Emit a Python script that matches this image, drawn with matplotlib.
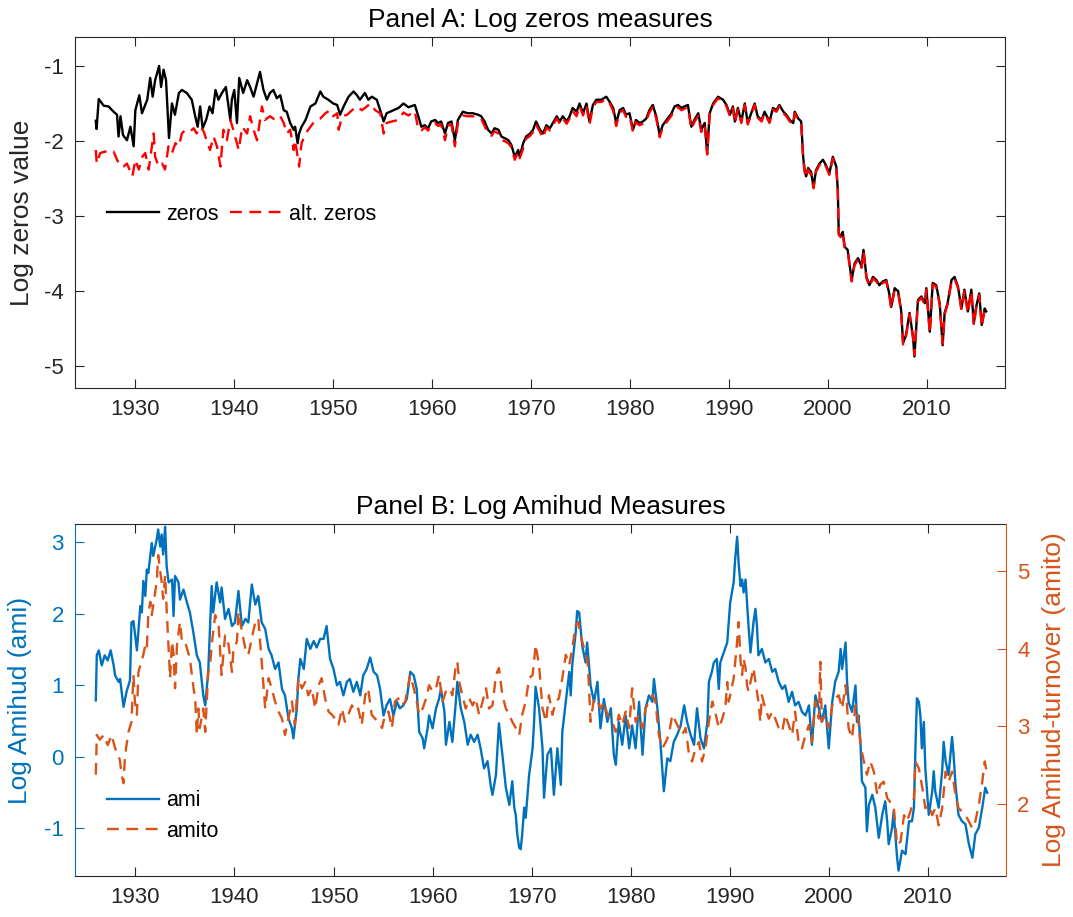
import matplotlib
matplotlib.use('Agg')
import matplotlib.pyplot as plt

plt.rcParams['font.family'] = ['Liberation Sans', 'DejaVu Sans']

# Panel A: log zeros measures (year, value)
zeros_early = [
    (1926.0, -1.73), (1926.08, -1.84), (1926.3, -1.44), (1926.8, -1.53), (1927.3, -1.54),
    (1927.8, -1.61), (1928.15, -1.65), (1928.3, -1.94), (1928.5, -1.67), (1928.75, -1.92),
    (1929.15, -1.99), (1929.5, -1.81), (1929.83, -2.07), (1930.0, -1.59), (1930.4, -1.39),
    (1930.67, -1.63), (1931.2, -1.45), (1931.5, -1.16), (1931.75, -1.41), (1932.0, -1.19),
    (1932.4, -1.00), (1932.6, -1.28), (1932.85, -1.05), (1933.1, -1.19), (1933.4, -1.96),
    (1933.7, -1.50), (1934.0, -1.65), (1934.4, -1.36), (1934.7, -1.32), (1935.2, -1.36),
    (1935.7, -1.45), (1936.05, -1.67), (1936.3, -1.81), (1936.55, -1.54), (1936.8, -1.83),
    (1937.15, -1.72), (1937.5, -1.54), (1937.8, -1.63), (1938.1, -1.32), (1938.4, -1.45),
    (1938.75, -1.36), (1939.15, -1.28), (1939.6, -1.72), (1939.75, -1.45), (1940.0, -1.32),
    (1940.27, -1.76), (1940.5, -1.16), (1940.9, -1.36), (1941.3, -1.19), (1941.6, -1.28),
    (1941.95, -1.41), (1942.3, -1.23), (1942.6, -1.08), (1942.95, -1.32), (1943.3, -1.45),
    (1943.6, -1.36), (1943.95, -1.32), (1944.3, -1.43), (1944.65, -1.39), (1945.0, -1.59),
    (1945.3, -1.61), (1945.65, -1.76), (1946.0, -1.85), (1946.15, -1.81), (1946.4, -2.03),
    (1946.55, -1.90), (1946.8, -1.81), (1947.2, -1.72), (1947.7, -1.54), (1948.2, -1.50),
    (1948.7, -1.34), (1949.0, -1.41), (1949.5, -1.45), (1950.0, -1.50), (1950.4, -1.52),
    (1950.7, -1.65), (1951.05, -1.54), (1951.55, -1.41), (1952.05, -1.34), (1952.4, -1.39),
    (1952.7, -1.45), (1953.2, -1.36), (1953.55, -1.45), (1953.9, -1.41), (1954.4, -1.45),
    (1954.75, -1.59), (1955.1, -1.74), (1955.4, -1.63), (1956.1, -1.59), (1956.6, -1.56),
]

alt_early = [
    (1926.0, -2.12), (1926.1, -2.30), (1926.45, -2.16), (1926.95, -2.14), (1927.5, -2.16),
    (1927.8, -2.14), (1928.15, -2.25), (1928.5, -2.34), (1928.8, -2.34), (1929.15, -2.30),
    (1929.7, -2.47), (1930.0, -2.25), (1930.35, -2.38), (1930.7, -2.21), (1931.0, -2.16),
    (1931.35, -2.38), (1931.85, -1.90), (1932.0, -2.21), (1932.35, -2.34), (1932.7, -2.30),
    (1933.0, -2.38), (1933.35, -2.07), (1933.7, -2.16), (1934.05, -2.03), (1934.4, -2.07),
    (1934.7, -1.90), (1935.05, -1.85), (1935.55, -1.87), (1935.9, -1.83), (1936.2, -1.90),
    (1936.55, -1.81), (1936.9, -1.87), (1937.2, -1.99), (1937.55, -2.12), (1937.9, -1.94),
    (1938.25, -2.07), (1938.6, -2.34), (1938.9, -1.85), (1939.25, -1.99), (1939.6, -1.72),
    (1939.9, -1.85), (1940.45, -2.12), (1940.8, -1.81), (1941.3, -1.90), (1941.6, -1.67),
    (1941.95, -1.85), (1942.3, -1.99), (1942.8, -1.54), (1943.1, -1.72), (1943.6, -1.67),
    (1944.15, -1.72), (1944.65, -1.67), (1945.0, -1.76), (1945.3, -1.90), (1945.65, -1.85),
    (1946.0, -2.12), (1946.15, -1.99), (1946.55, -2.34), (1946.8, -2.03), (1947.2, -1.90),
    (1947.7, -1.81), (1948.2, -1.72), (1948.7, -1.70), (1949.2, -1.63), (1949.7, -1.59),
    (1950.0, -1.67), (1950.4, -1.63), (1950.55, -1.85), (1950.9, -1.67), (1951.4, -1.65),
    (1951.9, -1.59), (1952.4, -1.54), (1952.9, -1.59), (1953.4, -1.54), (1953.75, -1.50),
    (1954.25, -1.59), (1954.75, -1.63), (1955.1, -1.90), (1955.4, -1.76), (1955.9, -1.74),
    (1956.6, -1.72),
]

# after 1957 both series move together: (year, zeros, alt. zeros)
zeros_late = [
    (1957.1, -1.50, -1.62), (1957.6, -1.55, -1.66), (1958.25, -1.52, -1.60), (1958.6, -1.67, -1.85),
    (1958.9, -1.81, -1.86), (1959.25, -1.79, -1.82), (1959.6, -1.83, -1.86), (1959.9, -1.74, -1.79),
    (1960.3, -1.72, -1.76), (1960.6, -1.76, -1.80), (1960.9, -1.74, -1.78), (1961.3, -1.90, -1.99),
    (1961.6, -1.76, -1.80), (1961.95, -1.74, -1.78), (1962.3, -1.99, -2.07), (1962.6, -1.72, -1.76),
    (1963.1, -1.61, -1.66), (1963.6, -1.63, -1.67), (1964.1, -1.63, -1.67), (1964.65, -1.65, -1.69),
    (1964.95, -1.67, -1.70), (1965.3, -1.74, -1.80), (1965.65, -1.85, -1.90), (1966.0, -1.90, -1.93),
    (1966.3, -1.83, -1.87), (1966.7, -1.85, -1.90), (1967.0, -1.94, -1.99), (1967.3, -1.96, -2.00),
    (1967.7, -1.99, -2.03), (1968.0, -2.05, -2.08), (1968.35, -2.21, -2.25), (1968.7, -2.12, -2.15),
    (1968.85, -2.21, -2.23), (1969.2, -2.03, -2.10), (1969.5, -1.94, -1.97), (1969.9, -1.90, -1.93),
    (1970.2, -1.85, -1.88), (1970.5, -1.74, -1.78), (1970.9, -1.85, -1.88), (1971.2, -1.90, -1.96),
    (1971.55, -1.79, -1.82), (1971.9, -1.83, -1.86), (1972.2, -1.76, -1.79), (1972.6, -1.67, -1.70),
    (1972.9, -1.74, -1.77), (1973.2, -1.67, -1.70), (1973.6, -1.74, -1.77), (1973.9, -1.67, -1.70),
    (1974.2, -1.56, -1.60), (1974.6, -1.61, -1.67), (1974.9, -1.50, -1.53), (1975.25, -1.63, -1.66),
    (1975.6, -1.50, -1.53), (1975.9, -1.74, -1.78), (1976.25, -1.52, -1.55), (1976.6, -1.45, -1.48),
    (1977.1, -1.45, -1.48), (1977.6, -1.41, -1.44), (1977.95, -1.48, -1.50), (1978.3, -1.56, -1.60),
    (1978.6, -1.76, -1.80), (1978.95, -1.59, -1.62), (1979.3, -1.56, -1.59), (1979.6, -1.65, -1.68),
    (1979.95, -1.63, -1.66), (1980.3, -1.85, -1.88), (1980.6, -1.72, -1.75), (1980.95, -1.76, -1.79),
    (1981.3, -1.74, -1.77), (1981.65, -1.70, -1.73), (1981.95, -1.59, -1.62), (1982.3, -1.52, -1.55),
    (1982.65, -1.67, -1.70), (1983.0, -1.92, -1.95), (1983.3, -1.79, -1.82), (1983.8, -1.70, -1.73),
    (1984.2, -1.63, -1.66), (1984.5, -1.54, -1.57), (1984.85, -1.52, -1.55), (1985.2, -1.56, -1.59),
    (1985.5, -1.54, -1.57), (1985.85, -1.52, -1.55), (1986.2, -1.81, -1.84), (1986.5, -1.72, -1.75),
    (1986.9, -1.63, -1.66), (1987.2, -1.85, -1.88), (1987.55, -1.76, -1.78), (1987.8, -2.16, -2.18),
    (1988.05, -1.63, -1.65), (1988.4, -1.50, -1.52), (1988.9, -1.41, -1.43), (1989.4, -1.45, -1.47),
    (1989.75, -1.52, -1.54), (1990.1, -1.65, -1.67), (1990.4, -1.54, -1.56), (1990.6, -1.74, -1.76),
    (1990.9, -1.56, -1.58), (1991.25, -1.74, -1.76), (1991.6, -1.50, -1.52), (1991.9, -1.76, -1.78),
    (1992.3, -1.61, -1.63), (1992.6, -1.50, -1.52), (1992.9, -1.67, -1.69), (1993.3, -1.72, -1.74),
    (1993.6, -1.61, -1.63), (1994.1, -1.74, -1.76), (1994.45, -1.56, -1.58), (1994.8, -1.59, -1.61),
    (1995.1, -1.52, -1.54), (1995.5, -1.61, -1.63), (1995.8, -1.65, -1.67), (1996.15, -1.72, -1.74),
    (1996.5, -1.76, -1.78), (1996.65, -1.61, -1.63), (1997.0, -1.70, -1.72), (1997.3, -1.74, -1.76),
    (1997.5, -2.21, -2.23), (1997.65, -2.39, -2.41), (1997.8, -2.47, -2.49), (1998.0, -2.36, -2.38),
    (1998.3, -2.41, -2.45), (1998.55, -2.61, -2.63), (1998.8, -2.39, -2.41), (1999.15, -2.30, -2.32),
    (1999.5, -2.25, -2.27), (1999.8, -2.32, -2.34), (2000.15, -2.43, -2.45), (2000.5, -2.21, -2.23),
    (2000.85, -2.34, -2.36), (2001.0, -2.65, -2.67), (2001.1, -3.23, -3.25), (2001.35, -3.27, -3.29),
    (2001.5, -3.21, -3.23), (2001.7, -3.41, -3.43), (2002.0, -3.45, -3.47), (2002.4, -3.85, -3.87),
    (2002.7, -3.63, -3.65), (2003.05, -3.56, -3.58), (2003.4, -3.67, -3.69), (2003.6, -3.45, -3.47),
    (2003.9, -3.81, -3.83), (2004.2, -3.92, -3.94), (2004.55, -3.81, -3.83), (2004.9, -3.85, -3.87),
    (2005.2, -3.92, -3.94), (2005.55, -3.87, -3.89), (2005.9, -3.85, -3.87), (2006.2, -4.03, -4.05),
    (2006.4, -4.21, -4.23), (2006.75, -3.96, -3.98), (2007.1, -4.00, -4.02), (2007.4, -4.25, -4.27),
    (2007.6, -4.69, -4.71), (2007.9, -4.58, -4.60), (2008.25, -4.29, -4.31), (2008.6, -4.60, -4.62),
    (2008.75, -4.87, -4.85), (2009.1, -4.12, -4.14), (2009.45, -4.07, -4.09), (2009.8, -4.16, -4.18),
    (2009.95, -3.96, -3.98), (2010.3, -4.54, -4.56), (2010.6, -3.89, -3.91), (2010.95, -3.92, -3.94),
    (2011.3, -4.16, -4.18), (2011.6, -4.72, -4.70), (2011.8, -4.29, -4.31), (2012.1, -4.16, -4.18),
    (2012.5, -3.85, -3.87), (2012.8, -3.81, -3.83), (2013.15, -3.94, -3.96), (2013.5, -4.23, -4.25),
    (2013.8, -3.98, -4.00), (2014.15, -4.27, -4.29), (2014.5, -3.98, -4.00), (2014.75, -4.43, -4.45),
    (2015.0, -4.20, -4.22), (2015.3, -4.03, -4.05), (2015.55, -4.45, -4.47), (2015.85, -4.23, -4.25),
    (2016.0, -4.27, -4.29),
]

# Panel B: log Amihud (left axis) and log Amihud-turnover (right axis)
ami_pts = [
    (1926.0, 0.79), (1926.1, 1.42), (1926.3, 1.49), (1926.6, 1.28), (1926.9, 1.42),
    (1927.2, 1.35), (1927.5, 1.49), (1927.8, 1.28), (1927.95, 1.14), (1928.3, 1.05),
    (1928.45, 1.09), (1928.8, 0.70), (1929.1, 0.91), (1929.45, 1.07), (1929.6, 1.88),
    (1929.8, 1.90), (1930.15, 1.49), (1930.5, 2.11), (1930.65, 2.02), (1930.8, 2.46),
    (1931.0, 2.25), (1931.15, 2.62), (1931.3, 2.57), (1931.65, 2.99), (1931.8, 2.81),
    (1932.15, 3.04), (1932.3, 3.18), (1932.5, 2.94), (1932.65, 3.11), (1932.8, 2.83),
    (1933.0, 3.22), (1933.15, 2.67), (1933.35, 2.44), (1933.7, 2.48), (1933.85, 1.97),
    (1934.0, 2.53), (1934.35, 2.44), (1934.5, 2.20), (1934.85, 2.34), (1935.2, 2.16),
    (1935.5, 2.02), (1935.85, 1.74), (1936.2, 1.42), (1936.5, 1.32), (1936.85, 0.86),
    (1937.05, 0.72), (1937.35, 1.19), (1937.7, 2.39), (1937.85, 2.02), (1938.2, 2.44),
    (1938.55, 2.16), (1938.7, 2.37), (1939.05, 1.93), (1939.4, 2.07), (1939.75, 1.83),
    (1940.05, 1.88), (1940.4, 2.32), (1940.75, 1.83), (1941.1, 1.93), (1941.4, 1.88),
    (1941.75, 2.41), (1942.1, 2.13), (1942.4, 2.25), (1942.75, 1.88), (1943.1, 1.79),
    (1943.45, 1.51), (1943.75, 1.42), (1944.1, 1.23), (1944.45, 1.32), (1944.8, 0.95),
    (1945.1, 0.86), (1945.45, 0.54), (1945.8, 0.40), (1945.95, 0.26), (1946.3, 0.68),
    (1946.45, 1.09), (1946.65, 1.37), (1947.0, 1.23), (1947.3, 1.65), (1947.65, 1.51),
    (1948.0, 1.62), (1948.3, 1.53), (1948.65, 1.65), (1949.0, 1.65), (1949.3, 1.83),
    (1949.65, 1.37), (1950.0, 1.23), (1950.35, 1.00), (1950.65, 1.05), (1951.0, 0.86),
    (1951.35, 1.05), (1951.65, 1.09), (1952.0, 0.91), (1952.35, 1.05), (1952.7, 0.86),
    (1953.0, 1.14), (1953.35, 1.23), (1953.7, 1.39), (1954.05, 1.19), (1954.4, 1.14),
    (1954.7, 0.95), (1955.05, 0.58), (1955.35, 0.72), (1955.7, 0.81), (1956.05, 0.58),
    (1956.4, 0.77), (1956.7, 0.68), (1957.05, 0.72), (1957.4, 0.81), (1957.75, 1.19),
    (1958.1, 1.14), (1958.4, 0.95), (1958.65, 0.35), (1959.0, 0.26), (1959.15, 0.12),
    (1959.5, 0.40), (1959.65, 0.58), (1960.0, 0.40), (1960.35, 0.68), (1960.65, 0.81),
    (1960.85, 0.95), (1961.2, 0.63), (1961.35, 0.17), (1961.7, 0.49), (1962.0, 0.21),
    (1962.35, 0.77), (1962.5, 1.05), (1962.85, 0.68), (1963.2, 0.49), (1963.55, 0.17),
    (1963.85, 0.31), (1964.2, 0.21), (1964.55, 0.31), (1964.85, 0.12), (1965.2, -0.16),
    (1965.55, -0.06), (1965.9, -0.43), (1966.05, -0.53), (1966.4, -0.25), (1966.7, 0.47),
    (1967.05, 0.03), (1967.4, -0.43), (1967.75, -0.67), (1968.05, -0.34), (1968.25, -0.71),
    (1968.4, -0.81), (1968.55, -1.08), (1968.75, -1.27), (1968.9, -1.29), (1969.05, -1.08),
    (1969.25, -0.71), (1969.4, -0.85), (1969.75, -0.25), (1970.1, 0.12), (1970.25, 0.49),
    (1970.4, 0.98), (1970.75, 0.68), (1971.1, 0.12), (1971.25, -0.57), (1971.6, 0.03),
    (1971.95, 0.12), (1972.25, -0.53), (1972.6, 0.12), (1972.95, -0.39), (1973.1, 0.35),
    (1973.45, 0.77), (1973.8, 1.19), (1973.95, 0.86), (1974.1, 1.28), (1974.45, 1.74),
    (1974.6, 2.04), (1974.8, 2.02), (1975.1, 1.56), (1975.45, 1.32), (1975.6, 1.60),
    (1975.8, 1.28), (1975.95, 1.00), (1976.3, 0.77), (1976.65, 1.05), (1976.95, 0.40),
    (1977.3, 0.81), (1977.65, 0.49), (1978.0, 0.68), (1978.3, 0.03), (1978.5, -0.11),
    (1978.8, 0.49), (1979.15, 0.17), (1979.5, 0.58), (1979.85, 0.12), (1980.15, 0.44),
    (1980.5, 0.12), (1980.85, 0.77), (1981.2, 0.03), (1981.5, 0.68), (1981.85, 0.86),
    (1982.2, 0.77), (1982.35, 1.09), (1982.7, 0.68), (1983.0, 0.21), (1983.35, -0.48),
    (1983.7, -0.02), (1984.0, -0.06), (1984.35, 0.21), (1984.7, 0.31), (1985.05, 0.44),
    (1985.4, 0.72), (1985.7, 0.49), (1986.05, 0.31), (1986.4, 0.17), (1986.7, 0.68),
    (1987.05, 0.26), (1987.4, 0.12), (1987.75, 0.49), (1987.9, 1.05), (1988.2, 1.19),
    (1988.4, 1.32), (1988.7, 1.37), (1988.9, 0.95), (1989.05, 1.32), (1989.4, 1.46),
    (1989.75, 1.60), (1989.9, 1.88), (1990.05, 2.16), (1990.4, 2.44), (1990.55, 2.76),
    (1990.75, 3.08), (1990.9, 2.71), (1991.1, 2.39), (1991.25, 2.48), (1991.4, 2.30),
    (1991.6, 2.48), (1991.75, 2.16), (1991.9, 1.83), (1992.1, 1.46), (1992.4, 1.88),
    (1992.6, 2.07), (1992.75, 1.83), (1992.9, 1.42), (1993.25, 1.51), (1993.6, 1.32),
    (1993.95, 1.37), (1994.3, 1.19), (1994.6, 1.23), (1994.95, 1.05), (1995.3, 0.95),
    (1995.6, 1.00), (1995.95, 0.77), (1996.3, 0.91), (1996.6, 0.72), (1996.95, 0.77),
    (1997.3, 0.63), (1997.65, 0.58), (1998.0, 0.72), (1998.3, 0.17), (1998.65, 0.86),
    (1999.0, 0.68), (1999.3, 0.49), (1999.65, 0.72), (2000.0, 0.12), (2000.35, 0.77),
    (2000.65, 1.05), (2001.0, 1.19), (2001.2, 1.51), (2001.35, 1.23), (2001.7, 1.60),
    (2001.85, 1.05), (2002.0, 0.77), (2002.35, 0.63), (2002.7, 1.00), (2002.85, 0.49),
    (2003.0, 0.58), (2003.2, 0.21), (2003.35, -0.34), (2003.7, -0.43), (2003.85, -1.04),
    (2004.05, -0.67), (2004.4, -0.53), (2004.7, -0.71), (2005.05, -1.13), (2005.4, -0.81),
    (2005.7, -0.62), (2005.9, -0.90), (2006.05, -1.22), (2006.4, -0.99), (2006.55, -0.76),
    (2006.9, -1.41), (2007.05, -1.59), (2007.4, -1.31), (2007.75, -1.36), (2008.1, -0.90),
    (2008.4, -0.90), (2008.6, -0.71), (2008.75, 0.12), (2008.9, 0.82), (2009.1, 0.77),
    (2009.25, 0.58), (2009.4, 0.12), (2009.6, 0.49), (2009.75, -0.16), (2009.9, -0.43),
    (2010.1, -0.81), (2010.45, -0.48), (2010.6, -0.20), (2010.75, -0.48), (2011.1, -0.71),
    (2011.45, -0.20), (2011.6, 0.21), (2011.8, -0.06), (2012.1, -0.25), (2012.45, 0.28),
    (2012.6, 0.03), (2012.8, -0.39), (2013.1, -0.81), (2013.45, -0.90), (2013.8, -0.94),
    (2014.15, -1.22), (2014.5, -1.41), (2014.8, -1.08), (2015.15, -0.99), (2015.5, -0.71),
    (2015.8, -0.43), (2016.0, -0.50),
]

amito_pts = [
    (1926.0, 2.38), (1926.1, 2.89), (1926.4, 2.83), (1926.8, 2.89), (1927.2, 2.76),
    (1927.6, 2.89), (1927.95, 2.72), (1928.3, 2.63), (1928.45, 2.55), (1928.6, 2.38),
    (1928.8, 2.27), (1928.95, 2.63), (1929.3, 2.93), (1929.6, 3.06), (1929.8, 3.66),
    (1929.95, 3.32), (1930.15, 3.15), (1930.3, 3.70), (1930.5, 3.79), (1930.8, 3.92),
    (1931.0, 4.05), (1931.15, 4.00), (1931.3, 4.43), (1931.5, 4.60), (1931.65, 4.43),
    (1932.0, 4.73), (1932.15, 4.86), (1932.3, 5.20), (1932.5, 4.99), (1932.65, 4.86),
    (1932.8, 4.64), (1933.0, 4.94), (1933.15, 4.51), (1933.35, 4.00), (1933.5, 3.62),
    (1933.7, 4.09), (1933.85, 3.92), (1934.0, 3.49), (1934.2, 4.05), (1934.5, 4.34),
    (1934.7, 4.09), (1935.0, 4.09), (1935.2, 4.00), (1935.5, 3.87), (1935.7, 3.66),
    (1936.05, 3.32), (1936.2, 2.89), (1936.35, 3.23), (1936.5, 2.98), (1936.85, 3.23),
    (1937.05, 2.93), (1937.35, 3.70), (1937.55, 3.79), (1937.7, 4.05), (1938.05, 4.43),
    (1938.4, 4.30), (1938.7, 3.66), (1939.05, 4.17), (1939.4, 4.05), (1939.75, 3.70),
    (1939.9, 4.00), (1940.25, 4.09), (1940.4, 4.47), (1940.75, 4.22), (1941.1, 4.00),
    (1941.4, 3.92), (1941.75, 4.13), (1942.1, 4.34), (1942.4, 4.39), (1942.75, 3.83),
    (1943.1, 3.23), (1943.45, 3.62), (1943.75, 3.49), (1944.1, 3.32), (1944.45, 3.19),
    (1944.8, 3.10), (1945.1, 2.89), (1945.45, 3.10), (1945.8, 3.32), (1946.1, 3.02),
    (1946.45, 3.62), (1946.8, 3.49), (1947.15, 3.57), (1947.45, 3.40), (1947.8, 3.49),
    (1948.15, 3.23), (1948.5, 3.53), (1948.8, 3.62), (1949.15, 3.36), (1949.5, 3.19),
    (1949.85, 3.15), (1950.15, 3.10), (1950.5, 3.02), (1950.85, 3.23), (1951.15, 3.06),
    (1951.5, 3.15), (1951.85, 3.27), (1952.2, 3.19), (1952.5, 3.23), (1952.85, 3.02),
    (1953.2, 3.40), (1953.5, 3.49), (1953.85, 3.15), (1954.2, 3.10), (1954.55, 3.06),
    (1954.9, 2.98), (1955.2, 3.15), (1955.55, 3.19), (1955.9, 2.98), (1956.2, 3.32),
    (1956.55, 3.36), (1956.9, 3.27), (1957.25, 3.32), (1957.6, 3.57), (1957.75, 3.66),
    (1958.1, 3.49), (1958.4, 3.32), (1958.65, 3.15), (1959.0, 3.23), (1959.35, 3.36),
    (1959.65, 3.53), (1960.0, 3.45), (1960.35, 3.49), (1960.65, 3.66), (1961.0, 3.32),
    (1961.35, 3.45), (1961.7, 3.49), (1962.0, 3.40), (1962.35, 3.79), (1962.5, 3.83),
    (1962.7, 3.57), (1963.0, 3.40), (1963.35, 3.23), (1963.7, 3.36), (1964.05, 3.27),
    (1964.35, 3.36), (1964.7, 3.15), (1965.05, 3.32), (1965.4, 3.49), (1965.7, 3.23),
    (1966.05, 3.27), (1966.4, 3.66), (1966.7, 3.75), (1967.05, 3.40), (1967.4, 3.23),
    (1967.75, 3.15), (1968.05, 3.06), (1968.4, 2.98), (1968.75, 2.89), (1969.05, 3.15),
    (1969.4, 3.32), (1969.75, 3.62), (1970.1, 3.66), (1970.25, 3.83), (1970.4, 4.05),
    (1970.75, 3.79), (1971.1, 3.23), (1971.45, 3.06), (1971.75, 3.40), (1972.1, 3.15),
    (1972.45, 3.32), (1972.75, 3.36), (1973.1, 3.62), (1973.45, 3.92), (1973.8, 3.79),
    (1974.1, 4.00), (1974.45, 4.30), (1974.7, 4.34), (1974.95, 4.17), (1975.3, 4.00),
    (1975.65, 3.83), (1975.8, 3.49), (1975.95, 3.06), (1976.3, 3.36), (1976.65, 3.32),
    (1977.0, 3.23), (1977.3, 3.32), (1977.65, 3.15), (1978.15, 3.06), (1978.5, 2.93),
    (1978.8, 3.15), (1979.15, 3.02), (1979.5, 3.19), (1979.85, 2.98), (1980.15, 3.49),
    (1980.5, 3.06), (1980.85, 3.15), (1981.2, 2.98), (1981.5, 3.23), (1981.85, 3.32),
    (1982.2, 3.40), (1982.5, 3.32), (1982.85, 2.89), (1983.2, 2.72), (1983.55, 2.80),
    (1983.85, 2.89), (1984.2, 3.15), (1984.55, 3.06), (1984.85, 2.98), (1985.2, 2.89),
    (1985.55, 2.98), (1985.9, 2.63), (1986.2, 2.55), (1986.55, 2.72), (1986.9, 2.80),
    (1987.2, 2.55), (1987.55, 2.72), (1987.9, 3.06), (1988.25, 3.32), (1988.6, 3.15),
    (1988.9, 2.98), (1989.25, 3.10), (1989.55, 3.23), (1989.75, 3.57), (1989.9, 3.32),
    (1990.05, 3.40), (1990.4, 3.62), (1990.75, 4.09), (1990.9, 4.34), (1991.1, 3.83),
    (1991.25, 3.66), (1991.4, 3.87), (1991.6, 3.75), (1991.75, 3.53), (1991.9, 3.45),
    (1992.25, 3.66), (1992.4, 3.75), (1992.6, 3.57), (1992.9, 3.32), (1993.1, 3.06),
    (1993.25, 3.40), (1993.6, 3.23), (1993.95, 3.10), (1994.3, 3.19), (1994.6, 3.10),
    (1994.95, 2.98), (1995.3, 2.93), (1995.6, 3.15), (1995.95, 3.02), (1996.3, 2.89),
    (1996.6, 3.19), (1996.95, 2.80), (1997.3, 2.72), (1997.65, 2.89), (1998.0, 3.02),
    (1998.3, 2.80), (1998.65, 3.32), (1999.0, 3.10), (1999.15, 3.83), (1999.3, 3.06),
    (1999.65, 3.15), (2000.0, 2.98), (2000.35, 3.27), (2000.65, 3.36), (2001.0, 3.40),
    (2001.35, 3.23), (2001.7, 3.53), (2002.0, 2.98), (2002.35, 2.85), (2002.7, 3.27),
    (2003.0, 3.06), (2003.2, 2.76), (2003.55, 2.55), (2003.85, 2.38), (2004.2, 2.55),
    (2004.55, 2.42), (2004.9, 2.12), (2005.2, 2.25), (2005.55, 2.29), (2005.9, 2.08),
    (2006.2, 2.03), (2006.55, 1.99), (2006.9, 1.48), (2007.25, 1.52), (2007.6, 1.86),
    (2007.9, 1.78), (2008.25, 1.91), (2008.6, 2.08), (2008.75, 2.55), (2009.1, 2.46),
    (2009.45, 2.21), (2009.75, 1.95), (2010.1, 1.99), (2010.45, 1.86), (2010.75, 1.95),
    (2011.1, 1.73), (2011.45, 1.95), (2011.8, 2.42), (2012.1, 2.29), (2012.45, 2.42),
    (2012.8, 2.12), (2013.1, 1.95), (2013.45, 1.91), (2013.8, 1.86), (2014.15, 1.78),
    (2014.5, 1.69), (2014.8, 1.78), (2015.15, 1.99), (2015.5, 2.29), (2015.75, 2.55),
    (2016.0, 2.38),
]

year_ticks = [1930, 1940, 1950, 1960, 1970, 1980, 1990, 2000, 2010]
zeros_ticks = [-5, -4, -3, -2, -1]
ami_ticks = [-1, 0, 1, 2, 3]
amito_ticks = [2, 3, 4, 5]

# unpack
z_yr = [p[0] for p in zeros_early] + [p[0] for p in zeros_late]
z_val = [p[1] for p in zeros_early] + [p[1] for p in zeros_late]
a_yr = [p[0] for p in alt_early] + [p[0] for p in zeros_late]
a_val = [p[1] for p in alt_early] + [p[2] for p in zeros_late]
ami_yr, ami_val = zip(*ami_pts)
amito_yr, amito_val = zip(*amito_pts)

DARK = '#262626'
BLUE = '#0072BD'
ORANGE = '#D95319'
TICK_FS = 16
LABEL_FS = 19
LEG_FS = 15.5
LW = 1.7

fig = plt.figure(figsize=(10.73, 9.17), dpi=100)

# ---------------- Panel A ----------------
ax = fig.add_axes([0.0699, 0.5766, 0.8667, 0.3831])
ax.plot(z_yr, z_val, color='black', lw=LW, label='zeros')
ax.plot(a_yr, a_val, color='red', lw=LW, dashes=(5, 3.2), label='alt. zeros')
ax.set_xlim(1923.9, 2017.9)
ax.set_ylim(-5.293, -0.614)
ax.set_xticks(year_ticks)
ax.set_yticks(zeros_ticks)
ax.set_xticklabels([str(t) for t in year_ticks])
ax.set_yticklabels([str(t) for t in zeros_ticks])
ax.tick_params(direction='in', length=6.5, width=0.8, labelsize=TICK_FS,
               colors=DARK, top=True, right=True, pad=8)
for s in ax.spines.values():
    s.set_color(DARK)
    s.set_linewidth(0.8)
ax.set_title('Panel A: Log zeros measures', fontsize=LABEL_FS, color='black', pad=7)
ax.set_ylabel('Log zeros value', fontsize=LABEL_FS, color=DARK)
ax.yaxis.set_label_coords(-0.044, 0.5)
ax.legend(loc='center left', bbox_to_anchor=(0.034, 0.496), ncol=2, frameon=False,
          fontsize=LEG_FS, handlelength=2.45, handletextpad=0.3, columnspacing=0.55,
          borderpad=0, borderaxespad=0)

# ---------------- Panel B ----------------
bx = fig.add_axes([0.0699, 0.0447, 0.8677, 0.3839])
bx2 = bx.twinx()
l1, = bx.plot(ami_yr, ami_val, color=BLUE, lw=LW, label='ami')
l2, = bx2.plot(amito_yr, amito_val, color=ORANGE, lw=LW, dashes=(5, 3.2), label='amito')
bx.set_xlim(1923.9, 2017.9)
bx.set_ylim(-1.665, 3.257)
bx2.set_ylim(1.079, 5.60)
bx.set_xticks(year_ticks)
bx.set_xticklabels([str(t) for t in year_ticks])
bx.set_yticks(ami_ticks)
bx.set_yticklabels([str(t) for t in ami_ticks])
bx2.set_yticks(amito_ticks)
bx2.set_yticklabels([str(t) for t in amito_ticks])

bx.tick_params(axis='x', direction='in', length=6.5, width=0.8, labelsize=TICK_FS,
               colors=DARK, top=True, pad=8)
bx.tick_params(axis='y', direction='in', length=6.5, width=0.8, labelsize=TICK_FS,
               colors=BLUE, right=False, pad=8)
bx2.tick_params(axis='y', direction='in', length=6.5, width=0.8, labelsize=TICK_FS,
                colors=ORANGE, pad=8)
for s in ['top', 'bottom']:
    bx.spines[s].set_color(DARK)
    bx.spines[s].set_linewidth(0.8)
    bx2.spines[s].set_visible(False)
bx.spines['left'].set_color(BLUE)
bx.spines['left'].set_linewidth(0.8)
bx.spines['right'].set_visible(False)
bx2.spines['left'].set_visible(False)
bx2.spines['right'].set_color(ORANGE)
bx2.spines['right'].set_linewidth(0.8)

bx.set_title('Panel B: Log Amihud Measures', fontsize=LABEL_FS, color='black', pad=7)
bx.set_ylabel('Log Amihud (ami)', fontsize=LABEL_FS, color=BLUE)
bx.yaxis.set_label_coords(-0.046, 0.5)
bx2.set_ylabel('Log Amihud-turnover (amito)', fontsize=LABEL_FS, color=ORANGE)
bx2.yaxis.set_label_coords(1.039, 0.5)

bx2.legend(handles=[l1, l2], loc='center left', bbox_to_anchor=(0.034, 0.17),
           frameon=False, fontsize=LEG_FS, handlelength=2.45, handletextpad=0.3,
           labelspacing=0.45, borderpad=0, borderaxespad=0)

fig.savefig('out.png', dpi=100)
